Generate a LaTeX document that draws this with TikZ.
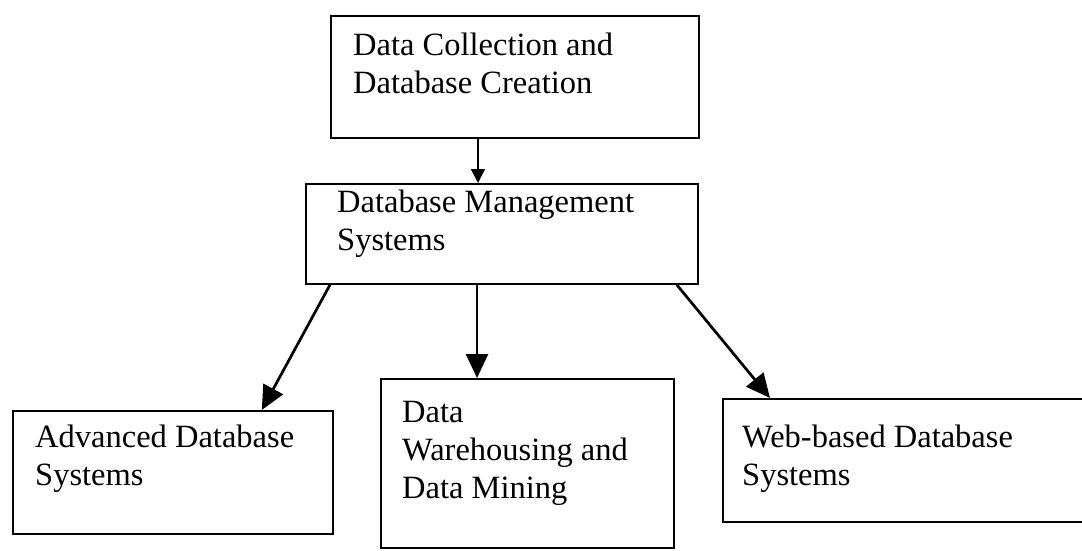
\documentclass[tikz,border=0pt]{standalone}
\usepackage{fontspec}
\setmainfont{Liberation Serif}
\usetikzlibrary{arrows.meta}
\begin{document}
\begin{tikzpicture}[x=1pt,y=-1pt,
  boxshape/.style={draw=black,line width=1.8pt,rectangle,inner sep=0pt,anchor=north west},
  label text/.style={inner sep=0pt,anchor=north west,align=left,
    font=\fontsize{32.5}{38}\selectfont},
  thinarrow/.style={line width=1.5pt,-{Triangle[length=14pt,width=14pt]}},
  thickarrow/.style={line width=2.7pt,-{Triangle[length=24pt,width=22pt]}}]
\useasboundingbox (0,0) rectangle (1082,551);
\clip (0,0) rectangle (1082,551);
\fill[white] (0,0) rectangle (1082,551);

% boxes
\node[boxshape,minimum width=368pt,minimum height=122pt] (top) at (330,15) {};
\node[boxshape,minimum width=392pt,minimum height=100pt] (mid) at (305,183) {};
\node[boxshape,minimum width=320pt,minimum height=123pt] (bl)  at (12,410) {};
\node[boxshape,minimum width=293pt,minimum height=169pt] (bm)  at (380,378) {};
\node[boxshape,minimum width=370pt,minimum height=123pt] (br)  at (722,398) {};

% box texts
\node[label text] (toptext) at (353,33)  {Data Collection and\\Database Creation};
\node[label text] (midtext) at (337,190) {Database Management\\Systems};
\node[label text] (bltext)  at (35,425)  {Advanced Database\\Systems};
\node[label text] (bmtext)  at (402,401) {Data\\Warehousing and\\Data Mining};
\node[label text] (brtext)  at (742,425) {Web-based Database\\Systems};

% connectors
\coordinate (a1) at ([xshift=148pt]top.south west);
\draw[thinarrow] (a1) -- (a1 |- mid.north);
\draw[thickarrow] ([xshift=25pt]mid.south west) -- ([xshift=-72pt]bl.north east);
\coordinate (a3) at ([xshift=172pt]mid.south west);
\draw[thickarrow] (a3) -- (a3 |- bm.north);
\draw[thickarrow] ([xshift=-22pt]mid.south east) -- ([xshift=48pt]br.north west);
\end{tikzpicture}
\end{document}
